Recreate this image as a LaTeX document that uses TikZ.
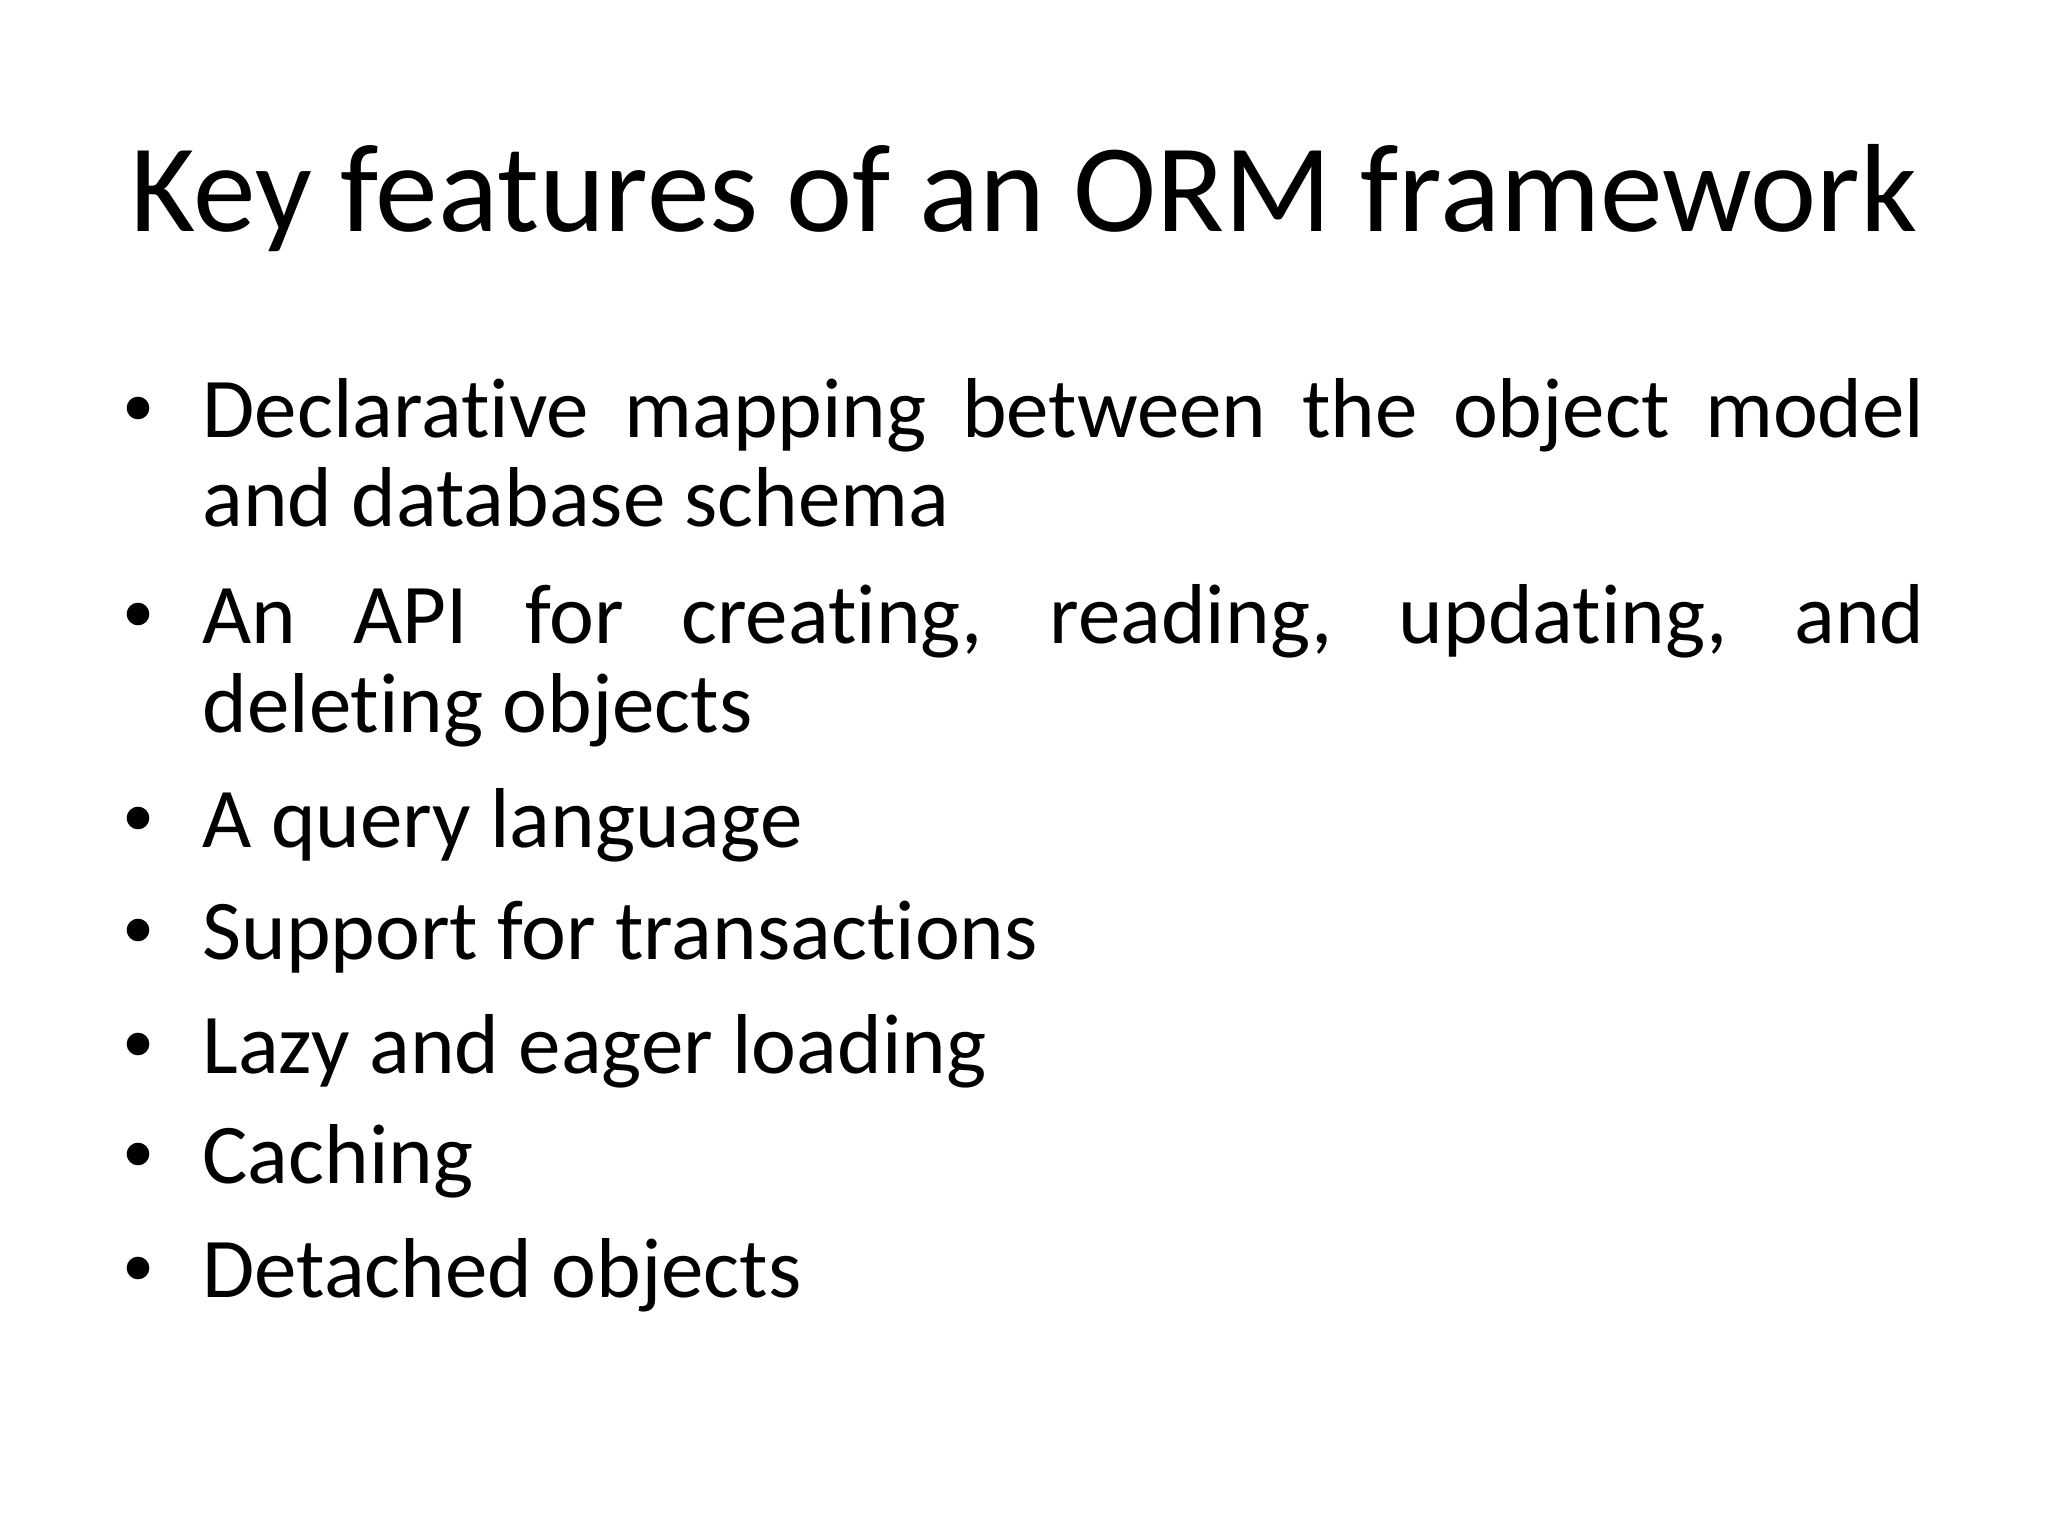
\documentclass[tikz,border=0pt]{standalone}
\usepackage{fontspec}
\setmainfont{Carlito}[Ligatures=NoCommon]
\setlength{\parindent}{0pt}
\begin{document}
\begin{tikzpicture}[x=0.35288pt, y=-0.35288pt,
  feature/.style={anchor=base west, inner sep=0, text width=607.6pt, align=justify, font=\fontsize{30}{31.6}\selectfont}]
\useasboundingbox[fill=white] (0,0) rectangle (2048,1536);
\node[anchor=base, inner sep=0, font=\fontsize{44.26}{50}\selectfont] (title) at (1024,232) {Key features of an ORM framework};
\foreach \n/\y/\txt in {1/437/{Declarative mapping between the object model\linebreak and database schema}, 2/643/{An API for creating, reading, updating, and\linebreak deleting objects}, 3/847/{A query language}, 4/959/{Support for transactions}, 5/1073/{Lazy and eager loading}, 6/1183/{Caching}, 7/1297/{Detached objects}}
  \node[feature] (f\n) at (202,\y) {\txt};
\foreach \n in {1,...,7} \fill ([shift={(-64,-29)}]f\n.base west) circle (4pt);
\end{tikzpicture}
\end{document}
